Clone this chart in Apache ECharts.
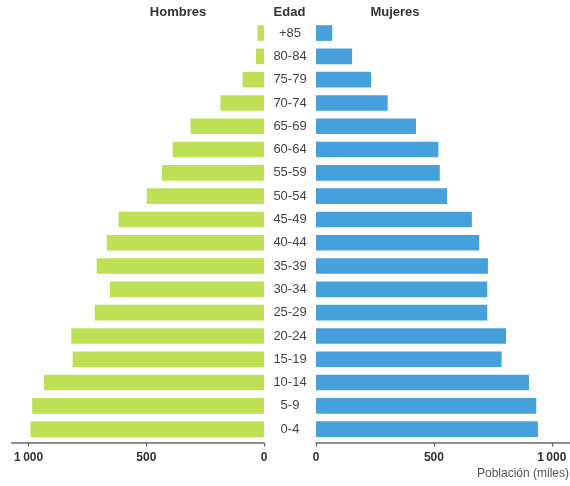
<!DOCTYPE html>
<html>
<head>
<meta charset="utf-8">
<script src="https://cdn.jsdelivr.net/npm/echarts@6/dist/echarts.min.js"></script>
<style>
html,body{margin:0;padding:0;background:#fff;}
#c{width:570px;height:486px;}
</style>
</head>
<body>
<div id="c"></div>
<script>
// Age groups, top to bottom
const ages = ['+85','80-84','75-79','70-74','65-69','60-64','55-59','50-54','45-49','40-44','35-39','30-34','25-29','20-24','15-19','10-14','5-9','0-4'];
// Population in thousands
const hombres = [28, 34, 91, 185, 312, 388, 434, 498, 618, 668, 711, 655, 719, 819, 813, 935, 985, 992];
const mujeres = [69, 153, 234, 304, 424, 519, 525, 556, 661, 692, 729, 726, 726, 806, 787, 903, 934, 941];
const tickValues = [0, 500, 1000];
const tickLabels = {0: '0', 500: '500', 1000: '1\u2009000'};

const FONT = '"Liberation Sans", Arial, sans-serif';
const chart = echarts.init(document.getElementById('c'), null, {renderer: 'canvas'});

const axisCommon = {
  type: 'value',
  axisLine: {show: true, lineStyle: {color: '#6b6b6b', width: 1.5}},
  axisTick: {show: true, length: 4, lineStyle: {color: '#6b6b6b', width: 1.2}, customValues: tickValues},
  axisLabel: {
    customValues: tickValues,
    formatter: v => tickLabels[v] !== undefined ? tickLabels[v] : '',
    color: '#333', fontWeight: 'bold', fontSize: 12, fontFamily: FONT, margin: 9
  },
  splitLine: {show: false},
  offset: 2,
  min: 0
};

chart.setOption({
  animation: false,
  backgroundColor: '#fff',
  textStyle: {fontFamily: FONT},
  grid: [
    {left: 11.7, right: 306, top: 21.4, bottom: 45.2},
    {left: 316, right: 0, top: 21.4, bottom: 45.2}
  ],
  xAxis: [
    Object.assign({}, axisCommon, {gridIndex: 0, inverse: true, max: 1072}),
    Object.assign({}, axisCommon, {gridIndex: 1, max: 1077})
  ],
  yAxis: [
    {type: 'category', gridIndex: 0, data: ages, inverse: true, show: false},
    {type: 'category', gridIndex: 1, data: ages, inverse: true, position: 'left',
      axisLine: {show: false}, axisTick: {show: false},
      axisLabel: {align: 'center', margin: 26, color: '#444', fontSize: 13, fontFamily: FONT}}
  ],
  series: [
    {name: 'Hombres', type: 'bar', xAxisIndex: 0, yAxisIndex: 0, data: hombres, barWidth: '67%',
      itemStyle: {color: '#bde055'}, silent: true},
    {name: 'Mujeres', type: 'bar', xAxisIndex: 1, yAxisIndex: 1, data: mujeres, barWidth: '67%',
      itemStyle: {color: '#45a0db'}, silent: true}
  ],
  graphic: [
    {type: 'text', left: 178, top: 12.7, style: {text: 'Hombres', x: 0, y: 0, align: 'center', verticalAlign: 'middle', fill: '#333', font: 'bold 13px ' + FONT}, position: [178, 12.7], left: null, top: null},
    {type: 'text', style: {text: 'Edad', x: 0, y: 0, align: 'center', verticalAlign: 'middle', fill: '#333', font: 'bold 13px ' + FONT}, position: [289.5, 12.7]},
    {type: 'text', style: {text: 'Mujeres', x: 0, y: 0, align: 'center', verticalAlign: 'middle', fill: '#333', font: 'bold 13px ' + FONT}, position: [395, 12.7]},
    {type: 'text', style: {text: 'Población (miles)', x: 0, y: 0, align: 'right', verticalAlign: 'middle', fill: '#555', font: '12px ' + FONT}, position: [569, 474]}
  ]
});
</script>
</body>
</html>
